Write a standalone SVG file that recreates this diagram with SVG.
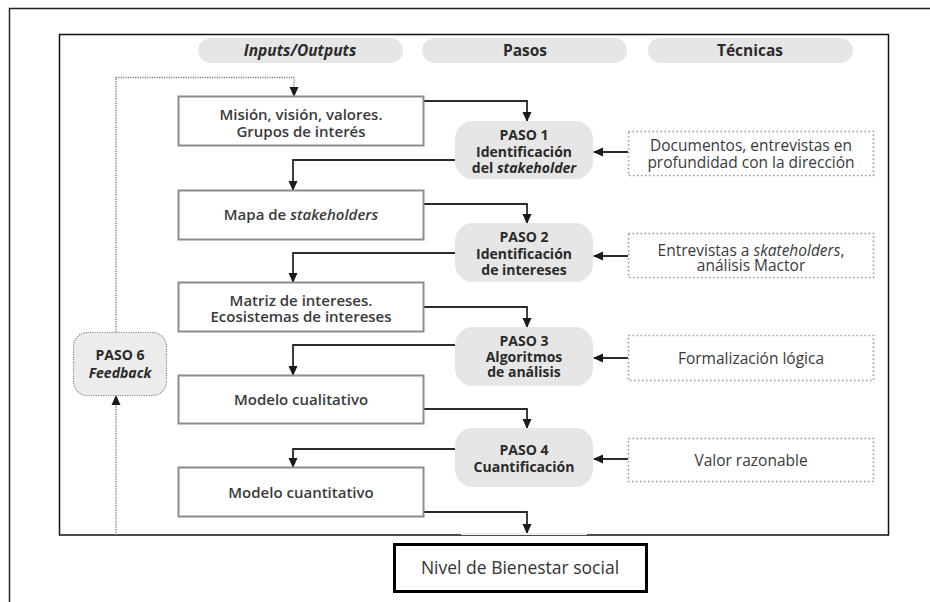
<svg xmlns="http://www.w3.org/2000/svg" width="930" height="602" viewBox="0 0 930 602">
  <style>
    text { font-family: "Open Sans", "Noto Sans", "Liberation Sans", sans-serif; text-anchor: middle; fill: #333; }
    .hdr { font-size: 15.5px; font-weight: 700; fill: #2b2b2b; }
    .box { fill: #fff; stroke: #8c8c8c; stroke-width: 2; }
    .bt { font-size: 15px; font-weight: 600; fill: #3a3a3a; }
    .pill { fill: #e6e6e6; }
    .pt { font-size: 14px; font-weight: 700; fill: #2a2a2a; }
    .tech { fill: #fff; stroke: #9a9a9a; stroke-width: 1.6; stroke-dasharray: 1.6 2.4; }
    .tt { font-size: 15.5px; font-weight: 500; fill: #3a3a3a; }
    .conn { fill: none; stroke: #2a2a2a; stroke-width: 1.8; }
    .dots { fill: none; stroke: #777; stroke-width: 1.4; stroke-dasharray: 1.2 1.2; }
  </style>
  <defs>
    <marker id="ah" viewBox="0 0 10 10" refX="9" refY="5" markerWidth="10" markerHeight="10" markerUnits="userSpaceOnUse" orient="auto">
      <path d="M0,0.5 L10,5 L0,9.5 z" fill="#1a1a1a"/>
    </marker>
  </defs>

  <rect x="0" y="0" width="930" height="602" fill="#fff"/>

  <!-- page frame -->
  <path d="M9.5,602 V8.5 H930" fill="none" stroke="#222" stroke-width="1.5"/>

  <!-- figure frame -->
  <rect x="59.5" y="34.5" width="829" height="500.5" fill="#fff" stroke="#111" stroke-width="1.5"/>

  <!-- column headers -->
  <g id="hdr-io">
    <rect x="198" y="38" width="205" height="25" rx="12.5" class="pill"/>
    <text x="300" y="56" class="hdr" font-style="italic">Inputs/Outputs</text>
  </g>
  <g id="hdr-pasos">
    <rect x="422" y="38" width="205" height="25" rx="12.5" class="pill"/>
    <text x="525" y="56" class="hdr">Pasos</text>
  </g>
  <g id="hdr-tecnicas">
    <rect x="648" y="38" width="205" height="25" rx="12.5" class="pill"/>
    <text x="750" y="56" class="hdr">Técnicas</text>
  </g>

  <!-- connectors -->
  <g id="connectors">
    <path class="conn" d="M423,101 H527 V121" marker-end="url(#ah)"/>
    <path class="conn" d="M455,160 H293 V190" marker-end="url(#ah)"/>
    <path class="conn" d="M423,204 H527 V223" marker-end="url(#ah)"/>
    <path class="conn" d="M455,253 H293 V282" marker-end="url(#ah)"/>
    <path class="conn" d="M423,307 H527 V327" marker-end="url(#ah)"/>
    <path class="conn" d="M455,345 H293 V375" marker-end="url(#ah)"/>
    <path class="conn" d="M423,409 H527 V428" marker-end="url(#ah)"/>
    <path class="conn" d="M455,449 H293 V467" marker-end="url(#ah)"/>
    <path class="conn" d="M423,512 H527 V533" marker-end="url(#ah)"/>
    <path class="conn" d="M628,152 H594" marker-end="url(#ah)"/>
    <path class="conn" d="M628,256 H594" marker-end="url(#ah)"/>
    <path class="conn" d="M628,358 H594" marker-end="url(#ah)"/>
    <path class="conn" d="M628,459 H594" marker-end="url(#ah)"/>
    <!-- feedback loop -->
    <path class="dots" d="M116,332 V77.5 H294 V96" marker-end="url(#ah)"/>
    <path class="dots" d="M116,535 V396" marker-end="url(#ah)"/>
  </g>

  <!-- inputs / outputs -->
  <g id="io-1">
    <rect x="178.5" y="96.5" width="245" height="49" class="box"/>
    <text x="301" y="120" class="bt">Misión, visión, valores.</text>
    <text x="301" y="137" class="bt">Grupos de interés</text>
  </g>
  <g id="io-2">
    <rect x="178.5" y="190.5" width="245" height="49" class="box"/>
    <text x="301" y="220" class="bt">Mapa de <tspan font-style="italic">stakeholders</tspan></text>
  </g>
  <g id="io-3">
    <rect x="178.5" y="282.5" width="245" height="49" class="box"/>
    <text x="301" y="306" class="bt">Matriz de intereses.</text>
    <text x="301" y="322" class="bt">Ecosistemas de intereses</text>
  </g>
  <g id="io-4">
    <rect x="178.5" y="375.5" width="245" height="48" class="box"/>
    <text x="301" y="405" class="bt">Modelo cualitativo</text>
  </g>
  <g id="io-5">
    <rect x="178.5" y="467.5" width="245" height="49" class="box"/>
    <text x="301" y="498" class="bt">Modelo cuantitativo</text>
  </g>

  <!-- steps -->
  <g id="paso-1">
    <rect x="455" y="121" width="138" height="58" rx="18" class="pill"/>
    <text x="524" y="140" class="pt">PASO 1</text>
    <text x="524" y="157" class="pt">Identificación</text>
    <text x="524" y="173" class="pt">del <tspan font-style="italic">stakeholder</tspan></text>
  </g>
  <g id="paso-2">
    <rect x="455" y="223" width="138" height="59" rx="18" class="pill"/>
    <text x="524" y="242" class="pt">PASO 2</text>
    <text x="524" y="259" class="pt">Identificación</text>
    <text x="524" y="275" class="pt">de intereses</text>
  </g>
  <g id="paso-3">
    <rect x="455" y="327" width="138" height="59" rx="18" class="pill"/>
    <text x="524" y="346" class="pt">PASO 3</text>
    <text x="524" y="362" class="pt">Algoritmos</text>
    <text x="524" y="377" class="pt">de análisis</text>
  </g>
  <g id="paso-4">
    <rect x="455" y="428" width="138" height="59" rx="18" class="pill"/>
    <text x="524" y="455" class="pt">PASO 4</text>
    <text x="524" y="472" class="pt">Cuantificación</text>
  </g>
  <g id="paso-5">
    <rect x="461" y="533" width="126" height="2" fill="#efefef"/>
  </g>
  <g id="paso-6">
    <rect x="73.5" y="332.5" width="93" height="63" rx="14" fill="#ececec" stroke="#888" stroke-width="1.2" stroke-dasharray="1.2 1.2"/>
    <text x="120" y="360" class="pt" font-size="15">PASO 6</text>
    <text x="120" y="378" class="pt" font-size="15" font-style="italic">Feedback</text>
  </g>

  <!-- techniques -->
  <g id="tec-1">
    <rect x="628.5" y="131.5" width="245" height="44" class="tech"/>
    <text x="751" y="151" class="tt">Documentos, entrevistas en</text>
    <text x="751" y="168" class="tt">profundidad con la dirección</text>
  </g>
  <g id="tec-2">
    <rect x="628.5" y="233.5" width="245" height="44" class="tech"/>
    <text x="751" y="256" class="tt">Entrevistas a <tspan font-style="italic">skateholders</tspan>,</text>
    <text x="751" y="271" class="tt">análisis Mactor</text>
  </g>
  <g id="tec-3">
    <rect x="628.5" y="335.5" width="245" height="45" class="tech"/>
    <text x="751" y="364" class="tt">Formalización lógica</text>
  </g>
  <g id="tec-4">
    <rect x="628.5" y="438.5" width="245" height="43" class="tech"/>
    <text x="751" y="466" class="tt" font-weight="600">Valor razonable</text>
  </g>

  <!-- caption -->
  <g id="caption">
    <rect x="394.5" y="544.5" width="252" height="47" fill="#fff" stroke="#000" stroke-width="3"/>
    <text x="520" y="574" font-size="17.5" fill="#111">Nivel de Bienestar social</text>
  </g>
</svg>
